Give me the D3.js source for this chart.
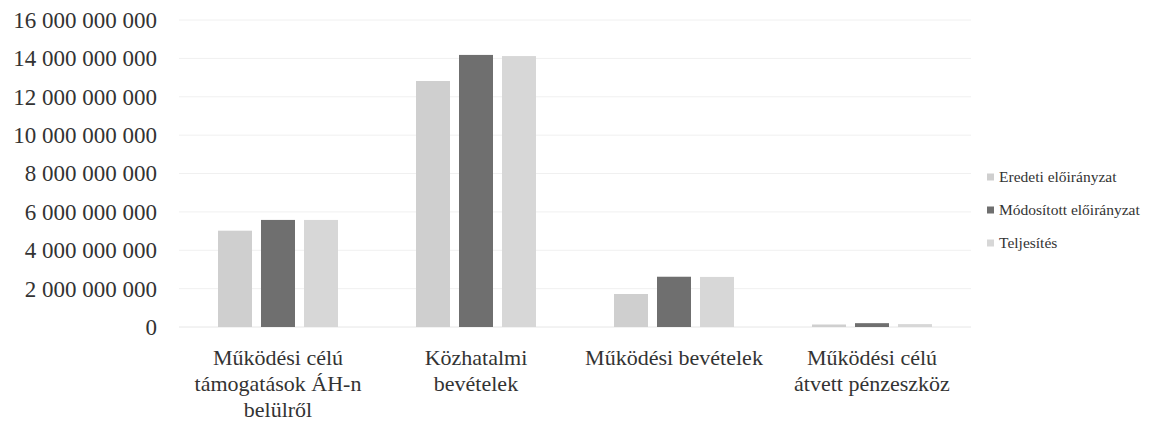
<!DOCTYPE html>
<html><head><meta charset="utf-8">
<script src="https://cdn.jsdelivr.net/npm/d3@7/dist/d3.min.js"></script>
</head>
<body style="margin:0;background:#fff"><svg id="c" width="1159" height="425" font-family="Liberation Serif"></svg>
<script>
const categories = [["Működési célú","támogatások ÁH-n","belülről"],["Közhatalmi","bevételek"],["Működési bevételek"],["Működési célú","átvett pénzeszköz"]];
const series = ["Eredeti előirányzat","Módosított előirányzat","Teljesítés"];
const eredeti = [5020000000, 12820000000, 1720000000, 130000000];
const modositott = [5580000000, 14180000000, 2620000000, 200000000];
const teljesites = [5580000000, 14120000000, 2610000000, 150000000];
const yTicks = [0,2e9,4e9,6e9,8e9,10e9,12e9,14e9,16e9];
const colors = ["#cfcfcf","#6f6f6f","#d7d7d7"];

const values = [eredeti, modositott, teljesites];
const svg = d3.select("#c");
const catKeys = categories.map((c,i)=>i);
const x0 = d3.scaleBand().domain(catKeys).range([179,971]).paddingInner(0.394).paddingOuter(0.197);
const x1 = d3.scaleBand().domain(series).range([0,x0.bandwidth()]).paddingInner(9/43).paddingOuter(0);
const y = d3.scaleLinear().domain([0,16e9]).range([327,20]);
const loc = d3.formatLocale({decimal:",",thousands:" ",grouping:[3],currency:["",""]});
const fmt = loc.format(",d");
const FONT = "Liberation Serif";
const TXT = "#333333";

svg.append("g").selectAll("line").data(yTicks).join("line")
  .attr("x1",179).attr("x2",971).attr("y1",d=>y(d)).attr("y2",d=>y(d))
  .attr("stroke",d=>d===0?"#e6e6e6":"#f0f0f0").attr("stroke-width",1);

const yAxis = d3.axisLeft(y).tickValues(yTicks).tickFormat(fmt).tickSize(0).tickPadding(0);
const ga = svg.append("g").attr("transform","translate(157,0)").call(yAxis);
ga.attr("font-family",FONT).attr("font-size",23);
ga.select(".domain").remove();
ga.selectAll("text").attr("font-family",FONT).attr("font-size",23).attr("fill",TXT).attr("dy","0.32em");

const g = svg.append("g");
catKeys.forEach(ci=>{
  series.forEach((s,si)=>{
    g.append("rect")
      .attr("x",x0(ci)+x1(s)).attr("width",x1.bandwidth())
      .attr("y",y(values[si][ci])).attr("height",y(0)-y(values[si][ci]))
      .attr("fill",colors[si]);
  });
});

catKeys.forEach(ci=>{
  const cx = x0(ci)+x0.bandwidth()/2;
  const t = svg.append("text").attr("text-anchor","middle").attr("font-size",22).attr("font-family",FONT).attr("fill",TXT);
  categories[ci].forEach((line,li)=>{
    t.append("tspan").attr("x",cx).attr("y",365+li*26).text(line);
  });
});

const lg = svg.append("g");
series.forEach((s,i)=>{
  const yy = 177 + i*33;
  lg.append("rect").attr("x",987).attr("y",yy-3.5).attr("width",7).attr("height",7).attr("fill",colors[i]);
  lg.append("text").attr("x",999).attr("y",yy+5).attr("font-size",15.5).attr("font-family",FONT).attr("fill",TXT).text(s);
});
</script></body></html>
